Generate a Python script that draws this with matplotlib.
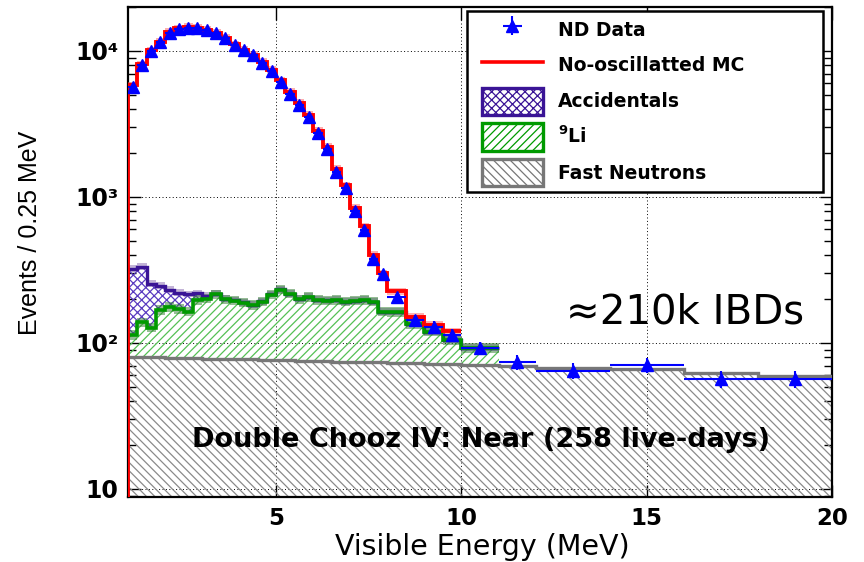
import numpy as np
import matplotlib
matplotlib.use("Agg")
import matplotlib.pyplot as plt
from matplotlib.patches import Patch, Rectangle
from matplotlib.lines import Line2D
from matplotlib.ticker import NullFormatter, FixedLocator

# ---------------- data ----------------
bin_edges = [1.0, 1.25, 1.5, 1.75, 2.0, 2.25, 2.5, 2.75, 3.0, 3.25, 3.5, 3.75,
             4.0, 4.25, 4.5, 4.75, 5.0, 5.25, 5.5, 5.75, 6.0, 6.25, 6.5, 6.75,
             7.0, 7.25, 7.5, 7.75, 8.0, 8.5, 9.0, 9.5, 10.0, 11.0, 12.0, 14.0,
             16.0, 18.0, 20.0]

nd_data = [5650, 8000, 10000, 11450, 13350, 14100, 14450, 14300, 13900, 13200,
           12200, 11000, 10100, 9350, 8320, 7320, 6170, 5100, 4260, 3550,
           2730, 2120, 1490, 1150, 796, 598, 374, 295, 206, 144,
           129, 113, 92, 73.8, 64.7, 70.6, 56.6, 56.6]

mc_no_osc = [5800, 8100, 10100, 11600, 13500, 14300, 14600, 14400, 14000, 13300,
             12300, 11100, 10200, 9400, 8400, 7400, 6300, 5250, 4400, 3650,
             2850, 2200, 1560, 1200, 840, 630, 400, 300, 225, 151,
             133, 120]

fast_neutrons = [80, 80, 79.5, 79.5, 79, 79, 78.5, 78.5, 78, 78,
                 77.5, 77.5, 77, 77, 76.5, 76.5, 76, 76, 75.5, 75.5,
                 75, 75, 74.5, 74.5, 74, 74, 73.5, 73.5, 73, 72.5,
                 72, 71.5, 71, 70, 67, 66, 62, 59]

lithium9 = [33, 58, 48, 88, 97, 91, 85, 118, 123, 137,
            121, 117, 111, 105, 115, 138, 156, 141, 123, 130,
            121, 120, 122, 117, 120, 123, 118, 90, 90, 62,
            47, 33, 21]

accidentals = [208, 195, 125, 78, 56, 50, 52, 22, 8, 3,
               1.5, 1.5, 1.2, 1.2, 1, 1, 1, 1, 0.8, 0.8,
               0.8, 0.8, 0.6, 0.6, 0.6, 0.6, 0.5, 0.5, 0.5, 0.4,
               0.4, 0.3, 0.3]

y_ticks = [10, 100, 1000, 10000]
y_ticklabels = ["10", "10\u00b2", "10\u00b3", "10\u2074"]
x_ticks = [5, 10, 15, 20]

# ---------------- styling ----------------
C_DATA = "#0000ff"
C_MC = "#ff0000"
C_ACC = "#3a1496"
C_LI = "#009a00"
C_FN = "#777777"

edges = np.array(bin_edges)
data = np.array(nd_data)
mc = np.array(mc_no_osc)
fn = np.array(fast_neutrons)
li = np.array(lithium9)
acc = np.array(accidentals)

n_li = len(li)
fn_li = fn[:n_li] + li
fn_li_acc = fn_li + acc

plt.rcParams["hatch.linewidth"] = 0.9

fig = plt.figure(figsize=(8.64, 5.62), dpi=100)
ax = fig.add_axes([128 / 864, 1 - 497 / 562, 704 / 864, 490 / 562])
ax.set_yscale("log")
ax.set_xlim(1, 20)
ax.set_ylim(8.8, 2.0e4)
ymin = 1.0

# fast neutrons
ax.stairs(fn, edges, baseline=ymin, fill=True, facecolor="none",
          edgecolor="#8a8a8a", hatch="\\\\\\\\", lw=0, zorder=2)
ax.stairs(fn, edges, baseline=None, color=C_FN, lw=2.4, zorder=3)

# 9Li hatch
ax.stairs(fn_li, edges[:n_li + 1], baseline=fn[:n_li], fill=True,
          facecolor="none", edgecolor="#55c055", hatch="////", lw=0, zorder=2)
# accidentals hatch
ax.stairs(fn_li_acc, edges[:n_li + 1], baseline=fn_li, fill=True,
          facecolor="none", edgecolor="#5a3cc0", hatch="xxxx", lw=0, zorder=2)
# bands
ax.stairs(fn_li_acc * 1.06, edges[:n_li + 1], baseline=fn_li_acc * 0.95,
          fill=True, color="#7a5aa8", alpha=0.45, lw=0, zorder=2.8)
ax.stairs(fn_li * 1.08, edges[:n_li + 1], baseline=fn_li * 0.93, fill=True,
          color="#2e7d2e", alpha=0.5, lw=0, zorder=3)
# lines
ax.stairs(fn_li_acc, edges[:n_li + 1], baseline=None, color=C_ACC, lw=2.4,
          zorder=3.5)
ax.stairs(fn_li, edges[:n_li + 1], baseline=None, color=C_LI, lw=2.6, zorder=4)

# MC
n_mc = len(mc)
ax.stairs(mc * 1.06, edges[:n_mc + 1], baseline=mc * 0.95, fill=True,
          color="#ff6060", alpha=0.5, lw=0, zorder=5)
ax.stairs(mc, edges[:n_mc + 1], baseline=None, color=C_MC, lw=2.8, zorder=6)
ax.plot([edges[0], edges[0]], [ymin, mc[0]], color=C_MC, lw=2.8, zorder=6)

# data
centers = 0.5 * (edges[:-1] + edges[1:])
xerr = 0.5 * (edges[1:] - edges[:-1])
yerr = np.sqrt(data)
eb = ax.errorbar(centers, data, xerr=xerr, yerr=yerr, fmt="^", color=C_DATA,
                 ms=8.5, lw=1.5, capsize=0, zorder=8)

# axes styling
ax.grid(True, which="major", ls=(0, (1, 2.5)), color="black", lw=0.7)
ax.set_axisbelow(True)
ax.yaxis.set_major_locator(FixedLocator(y_ticks))
ax.set_yticklabels(y_ticklabels, fontsize=17, family="DejaVu Sans",
                   fontweight="bold")
ax.yaxis.set_minor_formatter(NullFormatter())
ax.set_xticks(x_ticks)
ax.set_xticklabels([str(t) for t in x_ticks], fontsize=16.5,
                   family="DejaVu Sans", fontweight="bold")
ax.tick_params(which="both", direction="in", top=True, right=True, width=1.0)
ax.tick_params(which="major", length=9, pad=7)
ax.tick_params(which="minor", length=6)
for s in ax.spines.values():
    s.set_linewidth(1.6)

fig.text(482 / 864, 1 - 547 / 562, "Visible Energy (MeV)", ha="center",
         va="center", fontsize=20.5, family="DejaVu Sans")
fig.text(30 / 864, 1 - 233 / 562, "Events / 0.25 MeV", ha="center",
         va="center", rotation=90, fontsize=18,
         family=["Liberation Sans", "DejaVu Sans"])

ax.text((685 - 128) / 704, (497 - 312) / 490, "\u2248210k IBDs",
        transform=ax.transAxes, ha="center", va="center", fontsize=29,
        family="DejaVu Sans", zorder=10)
ax.text((481 - 128) / 704, (497 - 440) / 490,
        "Double Chooz IV: Near (258 live-days)", transform=ax.transAxes,
        ha="center", va="center", fontsize=19.5, fontweight="bold",
        family="DejaVu Sans", zorder=10)

# legend box
box = Rectangle(((467 - 128) / 704, (497 - 192) / 490), (823 - 467) / 704,
                (192 - 11) / 490, transform=ax.transAxes, facecolor="white",
                edgecolor="black", lw=1.8, zorder=20)
ax.add_patch(box)

handles = [
    eb,
    Line2D([], [], color=C_MC, lw=2.6),
    Patch(facecolor="none", edgecolor=C_ACC, hatch="xxxx", lw=2.4),
    Patch(facecolor="none", edgecolor=C_LI, hatch="////", lw=2.4),
    Patch(facecolor="none", edgecolor=C_FN, hatch="\\\\\\\\", lw=2.4),
]
labels = ["ND Data", "No-oscillatted MC", "Accidentals", r"$^{\mathbf{9}}$Li",
          "Fast Neutrons"]
leg = ax.legend(handles, labels, loc="upper left",
                bbox_to_anchor=((482 - 128) / 704, (497 - 16) / 490),
                frameon=False, borderpad=0, borderaxespad=0,
                handlelength=3.25, handleheight=1.84, handletextpad=0.8,
                labelspacing=0.47,
                prop={"family": "DejaVu Sans", "weight": "bold", "size": 13.5})
leg.set_zorder(21)

fig.savefig("out.png", dpi=100)
